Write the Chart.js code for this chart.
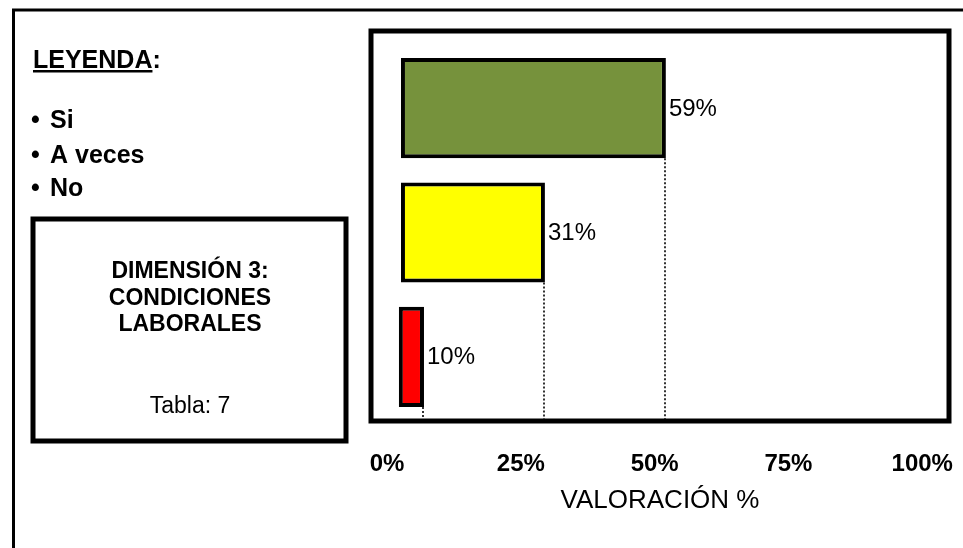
<!DOCTYPE html>
<html>
<head>
<meta charset="utf-8">
<script src="https://cdn.jsdelivr.net/npm/chart.js@4/dist/chart.umd.min.js"></script>
<style>
  body { margin: 0; background: #fff; }
  canvas { display: block; }
</style>
</head>
<body>
<canvas id="myChart" width="963" height="548"></canvas>
<script>
/* Datos */
const categorias = ['Si', 'A veces', 'No'];
const porcentajes = [59, 31, 10];           // texto de cada barra
const barraInicio = [2.6, 2.6, 2.2];         // extremo izquierdo
const barraFin = [52.1, 29.5, 6.9];          // extremo derecho
const ticksX = [0, 25, 50, 75, 100];

/* Colores */
let colorVerde = '#76923c';
let colorAmarillo = '#ffff00';
let colorRojo = '#ff0000';

const fuente = "'Liberation Sans', Arial, sans-serif";

const data = {
  labels: categorias,
  datasets: [
    {
      label: 'Valoración',
      data: barraInicio.map((v, i) => [v, barraFin[i]]),
      backgroundColor: [colorVerde, colorAmarillo, colorRojo],
      borderColor: '#000',
      borderWidth: 4,
      borderSkipped: false,
      barPercentage: 0.806,
      categoryPercentage: 1,
    },
  ],
};

/* marco del grafico, lineas punteadas y etiquetas de valor */
const decoracion = {
  id: 'decoracion',
  afterDatasetsDraw(chart) {
    const { ctx, chartArea } = chart;
    const meta = chart.getDatasetMeta(0);
    ctx.save();
    // lineas punteadas desde el final de cada barra
    ctx.strokeStyle = '#333';
    ctx.lineWidth = 2;
    ctx.setLineDash([2, 2]);
    meta.data.forEach((bar) => {
      const x = Math.round(bar.x) - 1;
      ctx.beginPath();
      ctx.moveTo(x, bar.y + bar.height / 2);
      ctx.lineTo(x, chartArea.bottom);
      ctx.stroke();
    });
    ctx.setLineDash([]);
    // etiquetas
    ctx.fillStyle = '#000';
    ctx.font = '24px ' + fuente;
    ctx.textAlign = 'left';
    ctx.textBaseline = 'middle';
    meta.data.forEach((bar, i) => {
      ctx.fillText(porcentajes[i] + '%', bar.x + 3, bar.y + 1);
    });
    // marco
    ctx.strokeStyle = '#000';
    ctx.lineWidth = 5;
    ctx.strokeRect(chartArea.left, chartArea.top - 15, chartArea.right - chartArea.left, chartArea.bottom - chartArea.top + 17);
    ctx.restore();
  },
};

/* panel izquierdo: leyenda y cuadro de la dimension */
const panelIzquierdo = {
  id: 'panelIzquierdo',
  afterDraw(chart) {
    const ctx = chart.ctx;
    ctx.save();
    ctx.strokeStyle = '#000';
    ctx.lineWidth = 3;
    ctx.beginPath();
    ctx.moveTo(13.5, 548);
    ctx.lineTo(13.5, 10);
    ctx.lineTo(963, 10);
    ctx.stroke();

    ctx.fillStyle = '#000';
    ctx.textAlign = 'left';
    ctx.textBaseline = 'alphabetic';
    ctx.font = 'bold 25px ' + fuente;
    ctx.fillText('LEYENDA:', 33, 68);
    const w = ctx.measureText('LEYENDA').width;
    ctx.fillRect(33, 70, w, 2.5);

    ctx.font = 'bold 25px ' + fuente;
    const bases = [128, 163, 196];
    categorias.forEach((c, i) => {
      ctx.fillText('•', 31, bases[i]);
      ctx.fillText(c, 50, bases[i]);
    });

    ctx.lineWidth = 5;
    ctx.strokeRect(33, 219, 313, 222);
    ctx.textAlign = 'center';
    ctx.font = 'bold 23px ' + fuente;
    ctx.fillText('DIMENSIÓN 3:', 190, 278);
    ctx.fillText('CONDICIONES', 190, 305);
    ctx.fillText('LABORALES', 190, 331);
    ctx.font = '23px ' + fuente;
    ctx.fillText('Tabla: 7', 190, 413);
    ctx.restore();
  },
};

const chartConfig = {
  type: 'bar',
  data,
  options: {
    indexAxis: 'y',
    responsive: false,
    animation: false,
    layout: { padding: { left: 371, right: 14, top: 46, bottom: 0 } },
    plugins: {
      legend: { display: false },
      tooltip: { enabled: false },
    },
    scales: {
      y: { display: false },
      x: {
        min: -3,
        max: 105,
        afterBuildTicks(s) {
          s.ticks = ticksX.map((v) => ({ value: v }));
        },
        afterFit(s) {
          s.height = 129;
          s.paddingLeft = 0;
          s.paddingRight = 0;
        },
        grid: { display: false, drawTicks: false },
        border: { display: false },
        ticks: {
          padding: 31,
          color: '#000',
          font: { family: fuente, size: 24, weight: 'bold' },
          maxRotation: 0,
          callback: (v) => v + '%',
        },
        title: {
          display: true,
          text: 'VALORACIÓN %',
          color: '#000',
          padding: { top: 0, bottom: 32 },
          font: { family: fuente, size: 26 },
        },
      },
    },
  },
  plugins: [decoracion, panelIzquierdo],
};

const ctx = document.getElementById('myChart').getContext('2d');
const myChart = new Chart(ctx, chartConfig);
</script>
</body>
</html>
